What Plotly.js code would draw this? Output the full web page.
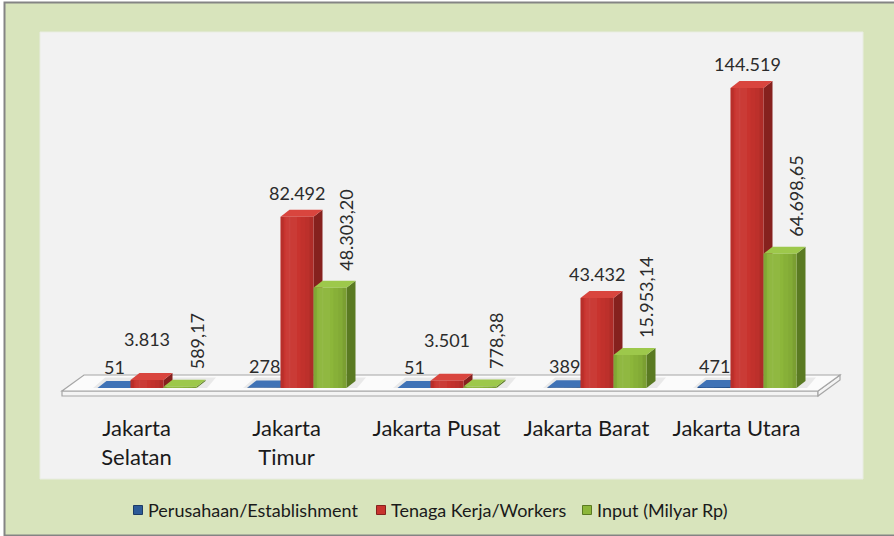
<!DOCTYPE html>
<html><head><meta charset="utf-8">
<script src="https://cdn.plot.ly/plotly-3.0.1.min.js"></script>
<style>html,body{margin:0;padding:0;background:#fff}#chart{width:894px;height:536px}</style>
</head><body><div id="chart"></div>
<script>
// ---- data ----
const categories = ['Jakarta Selatan', 'Jakarta Timur', 'Jakarta Pusat', 'Jakarta Barat', 'Jakarta Utara'];
const tickLabels = ['Jakarta<br>Selatan', 'Jakarta<br>Timur', 'Jakarta Pusat', 'Jakarta Barat', 'Jakarta Utara'];
const seriesNames = ['Perusahaan/Establishment', 'Tenaga Kerja/Workers', 'Input (Milyar Rp)'];
const establishments = [51, 278, 51, 389, 471];
const workers = [3813, 82492, 3501, 43432, 144519];
const inputMilyar = [589.17, 48303.20, 778.38, 15953.14, 64698.65];
const decimals = [0, 0, 2];

// ---- geometry / style ----
const W = 894, H = 536, ML = 72, MR = 72, MT = 56, MB = 148;
const plotW = W - ML - MR, plotH = H - MT - MB;
const YMAX = 160000;
const pxPerX = plotW / 5, pxPerY = plotH / YMAX;
const BAR = 0.22;
const GAP = 1 - 3 * BAR;
const DX = 9 / pxPerX, DY = 7 / pxPerY;   // 3D depth in data units
const palette = [
  {front: '#2c5a98', side: '#1c3b66', top: '#3f72b6'},
  {front: '#c8332e', side: '#86211e', top: '#d9453e'},
  {front: '#8cb63a', side: '#5a7a22', top: '#9dc84b'}
];
// horizontal shading profile across the front face (fraction start, end, overlay colour)
const shade = [
  [0.00, 0.10, 'rgba(0,0,0,0.08)'],
  [0.15, 0.30, 'rgba(255,255,255,0.04)'],
  [0.25, 0.50, 'rgba(255,255,255,0.04)'],
  [0.60, 0.75, 'rgba(0,0,0,0.03)'],
  [0.75, 0.88, 'rgba(0,0,0,0.06)'],
  [0.88, 1.00, 'rgba(0,0,0,0.12)']
];
const series = [establishments, workers, inputMilyar];
const FONT = 'Lato, "Open Sans", sans-serif';

function fmt(v, d) {
  const parts = v.toFixed(d).split('.');
  const intPart = parts[0].replace(/\B(?=(\d{3})+(?!\d))/g, '.');
  return parts.length > 1 ? intPart + ',' + parts[1] : intPart;
}
const px2x = p => (p - ML) / plotW;
const py2y = p => (H - MB - p) / plotH;
function paperPath(pts) {
  return 'M' + pts.map(p => px2x(p[0]).toFixed(5) + ',' + py2y(p[1]).toFixed(5)).join(' L') + ' Z';
}
function dataPath(pts) {
  return 'M' + pts.map(p => p[0].toFixed(5) + ',' + p[1].toFixed(3)).join(' L') + ' Z';
}

const shapes = [];
// outer frame
shapes.push({type: 'rect', xref: 'paper', yref: 'paper', layer: 'below',
  x0: px2x(4.5), x1: px2x(905), y0: py2y(2.5), y1: py2y(535.5),
  fillcolor: '#d8e4bc', line: {color: '#848484', width: 2}});
// inner chart area
shapes.push({type: 'rect', xref: 'paper', yref: 'paper', layer: 'below',
  x0: px2x(40), x1: px2x(863), y0: py2y(32), y1: py2y(479),
  fillcolor: '#f2f2f2', line: {color: '#e9ede2', width: 1}});
// floor slab
shapes.push({type: 'path', xref: 'paper', yref: 'paper', layer: 'below',
  path: paperPath([[62, 391], [818, 391], [818, 396], [62, 396]]),
  fillcolor: '#f4f4f4', line: {color: '#a6a6a6', width: 1.2}});
shapes.push({type: 'path', xref: 'paper', yref: 'paper', layer: 'below',
  path: paperPath([[818, 391], [840, 375], [840, 380], [818, 396]]),
  fillcolor: '#f4f4f4', line: {color: '#a6a6a6', width: 1.2}});
shapes.push({type: 'path', xref: 'paper', yref: 'paper', layer: 'below',
  path: paperPath([[84, 375], [840, 375], [818, 391], [62, 391]]),
  fillcolor: '#fbfbfb', line: {color: '#a6a6a6', width: 1.2}});

// shadows + 3D side/top faces
categories.forEach((c, i) => {
  shapes.push({type: 'path', xref: 'x', yref: 'y', layer: 'below',
    path: dataPath([[i - 0.36, 0], [i + 0.40, 0], [i + 0.46, DY * 1.5], [i - 0.28, DY * 1.5]]),
    fillcolor: 'rgba(0,0,0,0.07)', line: {width: 0}});
  series.forEach((vals, s) => {
    const v = vals[i];
    const xl = i - 1.5 * BAR + s * BAR;
    const xr = xl + BAR;
    shapes.push({type: 'path', xref: 'x', yref: 'y', layer: 'below',
      path: dataPath([[xr, 0], [xr, v], [xr + DX, v + DY], [xr + DX, DY]]),
      fillcolor: palette[s].side, line: {width: 0}});
    shapes.push({type: 'path', xref: 'x', yref: 'y', layer: 'below',
      path: dataPath([[xl, v], [xl + DX, v + DY], [xr + DX, v + DY], [xr, v]]),
      fillcolor: palette[s].top, line: {width: 0}});
    shade.forEach(b => {
      shapes.push({type: 'rect', xref: 'x', yref: 'y', layer: 'above',
        x0: xl + BAR * b[0], x1: xl + BAR * b[1], y0: 0, y1: v,
        fillcolor: b[2], line: {width: 0}});
    });
  });
});

const traces = series.map((vals, s) => ({
  type: 'bar', name: seriesNames[s],
  x: categories.map((c, i) => i), y: vals,
  marker: {color: palette[s].front, line: {width: 0}},
  hoverinfo: 'skip', showlegend: false
}));

const annotations = [];
categories.forEach((c, i) => {
  const vb = establishments[i];
  annotations.push({x: i - BAR, y: vb, xref: 'x', yref: 'y', text: fmt(vb, decimals[0]),
    showarrow: false, yanchor: 'middle', yshift: 21,
    font: {family: FONT, size: 18, color: '#2b2b2b'}});
  const vr = workers[i];
  annotations.push({x: i, y: vr, xref: 'x', yref: 'y', text: fmt(vr, decimals[1]),
    showarrow: false, yanchor: 'middle', yshift: vr < 10000 ? 41 : 24,
    font: {family: FONT, size: 18, color: '#2b2b2b'}});
  const vg = inputMilyar[i];
  annotations.push({x: i + 1.5 * BAR, y: vg, xref: 'x', yref: 'y', text: fmt(vg, decimals[2]),
    showarrow: false, yanchor: 'bottom', xanchor: 'center', yshift: 15, textangle: -90,
    font: {family: FONT, size: 18, color: '#2b2b2b'}});
});

// legend (key squares + labels)
const legendSquares = [138, 381, 587];
const legendY = 510;
seriesNames.forEach((name, s) => {
  const cx = legendSquares[s];
  shapes.push({type: 'rect', xref: 'paper', yref: 'paper', layer: 'above',
    x0: px2x(cx - 4.5), x1: px2x(cx + 4.5), y0: py2y(legendY + 4.5), y1: py2y(legendY - 4.5),
    fillcolor: palette[s].front, line: {color: palette[s].side, width: 1}});
  annotations.push({xref: 'paper', yref: 'paper', x: px2x(cx + 8), y: py2y(legendY),
    xanchor: 'left', yanchor: 'middle', showarrow: false, text: name,
    font: {family: FONT, size: 18, color: '#1a1a1a'}});
});

const layout = {
  width: W, height: H,
  margin: {l: ML, r: MR, t: MT, b: MB, pad: 0},
  paper_bgcolor: '#ffffff', plot_bgcolor: 'rgba(0,0,0,0)',
  barmode: 'group', bargap: GAP, bargroupgap: 0,
  font: {family: FONT, color: '#1f1f1f'},
  xaxis: {range: [-0.5, 4.5], tickvals: categories.map((c, i) => i - 0.07), ticktext: tickLabels,
    ticks: 'outside', ticklen: 21, tickcolor: 'rgba(0,0,0,0)', showgrid: false, zeroline: false,
    showline: false, fixedrange: true, tickfont: {family: FONT, size: 22, color: '#1a1a1a'}},
  yaxis: {range: [0, YMAX], showgrid: false, zeroline: false, showline: false,
    showticklabels: false, ticks: '', fixedrange: true},
  showlegend: false,
  shapes: shapes,
  annotations: annotations
};

Plotly.newPlot('chart', traces, layout, {displayModeBar: false, staticPlot: true});
</script>
</body></html>
